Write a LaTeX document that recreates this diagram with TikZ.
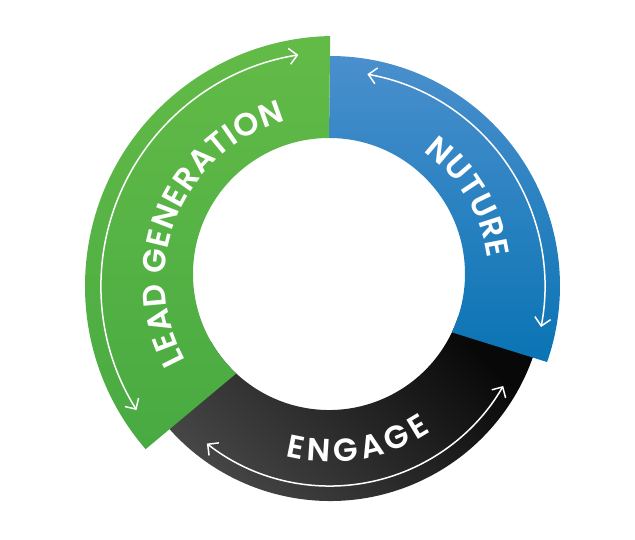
\documentclass[tikz,border=0pt]{standalone}
\usepackage{fontspec}
\newfontfamily\labelfont{Poppins SemiBold}
\usetikzlibrary{arrows.meta, calc, decorations.text}

\definecolor{leadgreen}{RGB}{99,187,71}
\definecolor{leadgreendark}{RGB}{72,170,66}
\definecolor{nurtureblue}{RGB}{74,143,205}
\definecolor{nurturebluedark}{RGB}{10,116,180}
\definecolor{engagegray}{RGB}{76,76,76}
\definecolor{engageblack}{RGB}{8,8,8}

\newcommand\bandfont{\labelfont\fontsize{32}{34}\selectfont\color{white}}

\begin{document}
\begin{tikzpicture}[
    x=1pt, y=1pt,
    cyclearrow/.style={white, line width=1.5pt,
        {Straight Barb[length=8pt,width=16pt]}-{Straight Barb[length=8pt,width=16pt]}},
    bandtext/.style={decorate, decoration={text along path,
        text align=fit to path, text={|\bandfont|#1}}}
]
\useasboundingbox (-329,-266) rectangle (306,274);

\coordinate (ctr) at (0,0);    % hole
\coordinate (oc) at (1,-12);   % blue and grey rims
\coordinate (gc) at (6,-12);   % green rim
\coordinate (tc) at (1,-6);    % lettering

% === ENGAGE band (underneath) ===
\shade[left color=engagegray, middle color=engagegray, right color=engageblack,
       shading angle=135]
    ($(ctr)+(-18:136)$) arc[start angle=-18, end angle=-150, radius=136]
    -- ($(oc)+(-150:215)$) arc[start angle=-150, end angle=-18, radius=215] -- cycle;

% === NUTURE band ===
\shade[top color=nurtureblue, bottom color=nurturebluedark]
    ($(ctr)+(90:136)$) arc[start angle=90, end angle=-25.4, radius=136]
    -- ($(oc)+(-19.3:230)$) arc[start angle=-19.3, end angle=90, radius=230] -- cycle;

% === LEAD GENERATION band ===
\shade[top color=leadgreen, bottom color=leadgreendark]
    ($(ctr)+(90:136)$) arc[start angle=90, end angle=227, radius=136]
    -- ($(gc)+(220.75:250)$) arc[start angle=220.75, end angle=91.1, radius=250] -- cycle;

% Labels
\path[bandtext=LEAD GENERATION] ($(tc)+(209:165)$) arc[start angle=209, end angle=105.5, radius=165];
\path[bandtext=NUTURE] ($(tc)+(54:159)$) arc[start angle=54, end angle=7.8, radius=159];
\path[bandtext=ENGAGE] ($(tc)+(256:182)$) arc[start angle=256, end angle=303.6, radius=182];

% Arrows
\draw[cyclearrow] ($(gc)+(212:234)$) arc[start angle=212, end angle=99, radius=234];
\draw[cyclearrow] ($(oc)+(80:215)$) arc[start angle=80, end angle=-11, radius=215];
\draw[cyclearrow] ($(oc)+(232:200)$) arc[start angle=232, end angle=330, radius=200];

\end{tikzpicture}
\end{document}
